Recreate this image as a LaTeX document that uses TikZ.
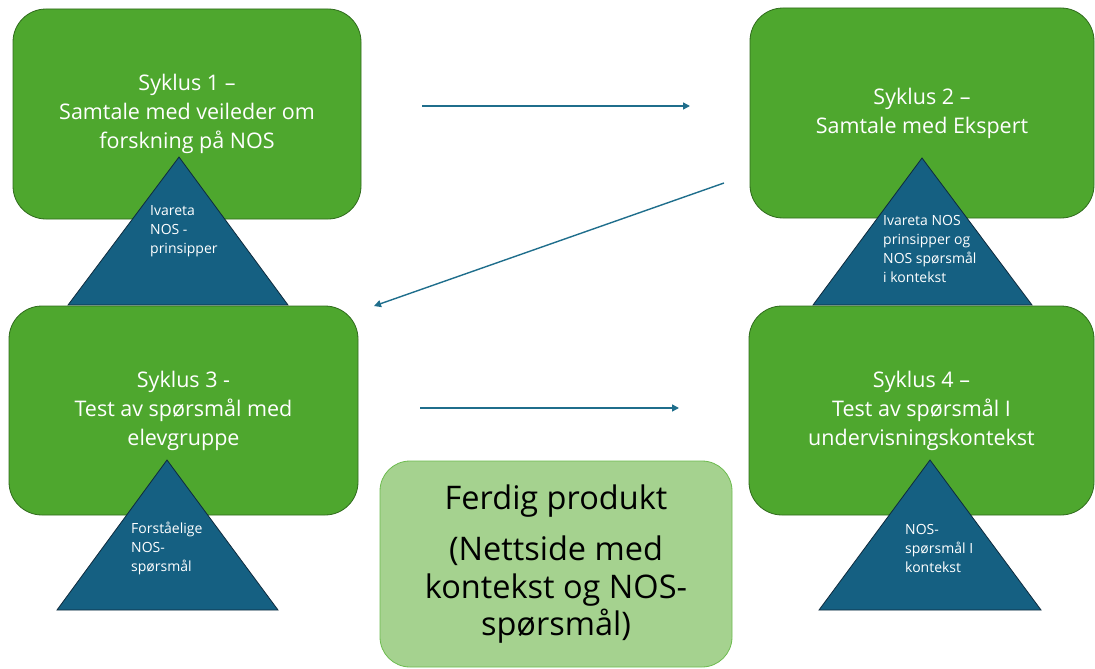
\documentclass[tikz,border=0pt]{standalone}
\usepackage{fontspec}
\setmainfont{Open Sans}
\usetikzlibrary{arrows.meta}
\definecolor{boxgreen}{HTML}{4EA72E}
\definecolor{boxedge}{HTML}{2F6B1C}
\definecolor{trifill}{HTML}{156082}
\definecolor{triedge}{HTML}{0E2A3D}
\definecolor{lightg}{HTML}{A5D28F}
\definecolor{lightedge}{HTML}{6DBB4F}
\definecolor{arrcol}{HTML}{1F6E8C}
\begin{document}
\begin{tikzpicture}[x=1pt,y=-1pt,
  cyclebox/.style={draw=boxedge, fill=boxgreen, line width=0.8pt, rounded corners=33pt,
    text=white, align=center, font=\fontsize{21.5}{29}\selectfont, inner sep=0pt},
  prodbox/.style={draw=lightedge, fill=lightg, line width=0.8pt, rounded corners=30pt,
    text=black, align=center, font=\fontsize{32.5}{37.5}\selectfont, inner sep=0pt},
  tripath/.style={draw=triedge, fill=trifill, line width=0.8pt, line join=miter},
  trilabel/.style={text=white, align=left, anchor=west, inner sep=0pt,
    font=\fontsize{14}{19}\selectfont},
  flow/.style={draw=arrcol, line width=1.4pt, -{Triangle[length=7pt,width=7pt]}}
]
\useasboundingbox (0,0) rectangle (1095,669);

% top row boxes
\node[cyclebox, minimum width=348pt, minimum height=210pt] (s1) at (187,114)
  {Syklus 1 –\\Samtale med veileder om\\forskning på NOS};
\node[cyclebox, minimum width=344pt, minimum height=210pt] (s2) at (922,113)
  {Syklus 2 –\\Samtale med Ekspert};

% triangles of the top row
\coordinate (t1a) at (179,157); \coordinate (t1b) at (68,305); \coordinate (t1c) at (288,305);
\path[tripath] (t1a) -- (t1b) -- (t1c) -- cycle;
\node[trilabel] (l1) at (150,231) {Ivareta\\NOS -\\prinsipper};

\coordinate (t2a) at (922,158); \coordinate (t2b) at (813,305); \coordinate (t2c) at (1032,305);
\path[tripath] (t2a) -- (t2b) -- (t2c) -- cycle;
\node[trilabel] (l2) at (883,249) {Ivareta NOS\\prinsipper og\\NOS spørsmål\\i kontekst};

% bottom row boxes
\node[cyclebox, minimum width=349pt, minimum height=209pt] (s3) at (183.5,410.5)
  {Syklus 3 -\\Test av spørsmål med\\elevgruppe};
\node[cyclebox, minimum width=345pt, minimum height=209pt] (s4) at (921.5,410.5)
  {Syklus 4 –\\Test av spørsmål I\\undervisningskontekst};

\coordinate (t3a) at (167,460); \coordinate (t3b) at (57,610); \coordinate (t3c) at (278,610);
\path[tripath] (t3a) -- (t3b) -- (t3c) -- cycle;
\node[trilabel] (l3) at (131,548) {Forståelige\\NOS-\\spørsmål};

\coordinate (t4a) at (930,460); \coordinate (t4b) at (819,610); \coordinate (t4c) at (1041,610);
\path[tripath] (t4a) -- (t4b) -- (t4c) -- cycle;
\node[trilabel] (l4) at (905,548) {NOS-\\spørsmål I\\kontekst};

% final product
\node[prodbox, minimum width=352pt, minimum height=206pt] (prod) at (556,564)
  {Ferdig produkt\\[14pt](Nettside med\\kontekst og NOS-\\spørsmål)};

% arrows
\coordinate (a1s) at (422,106); \coordinate (a1e) at (690,106);
\coordinate (a2s) at (724,183); \coordinate (a2e) at (374,306);
\coordinate (a3s) at (420,408); \coordinate (a3e) at (679,408);
\draw[flow] (a1s) -- (a1e);
\draw[flow] (a2s) -- (a2e);
\draw[flow] (a3s) -- (a3e);
\end{tikzpicture}
\end{document}
